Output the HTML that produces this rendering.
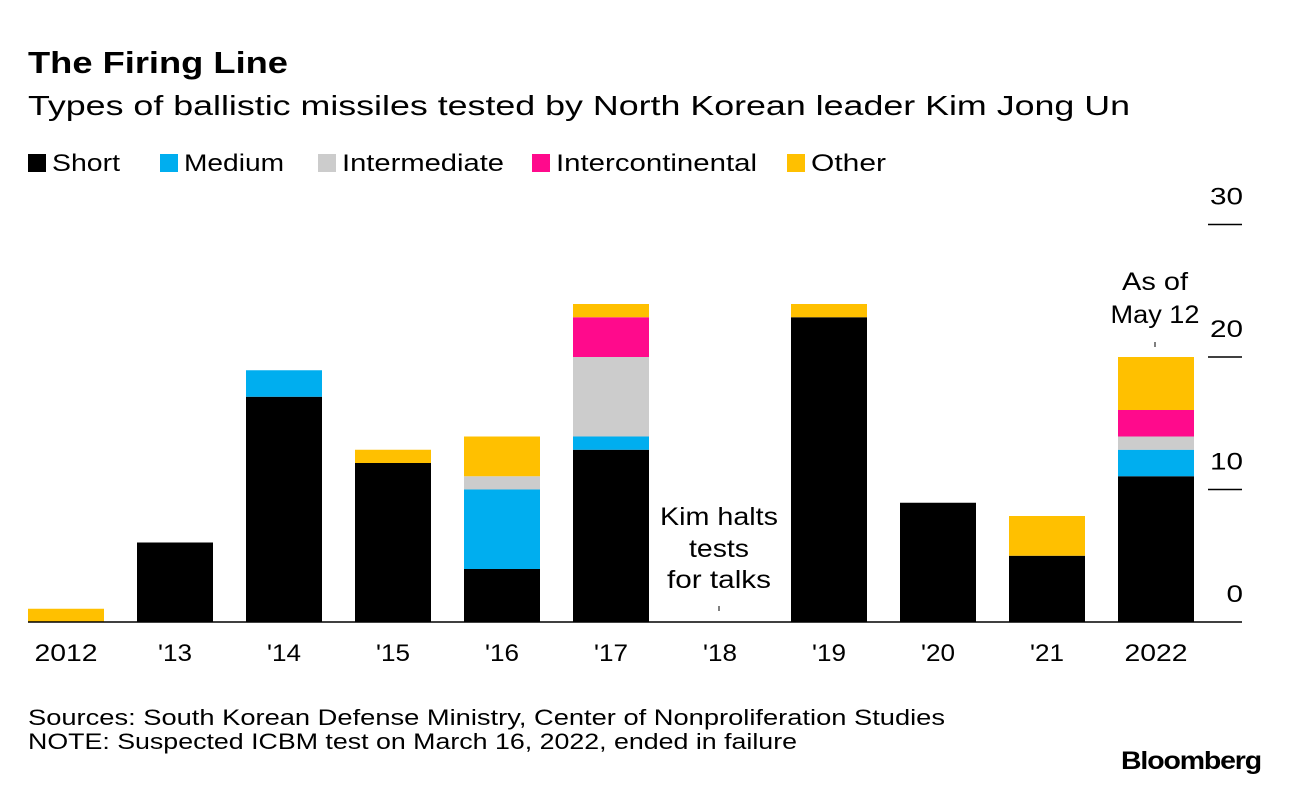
<!DOCTYPE html>
<html><head><meta charset="utf-8"><style>
body{margin:0;background:#fff;width:1289px;height:786px;overflow:hidden;font-family:"Liberation Sans",sans-serif;}
svg text{font-family:"Liberation Sans",sans-serif;}
</style></head><body>
<svg width="1289" height="786" id="c">
<text x="28" y="73" font-size="31" font-weight="bold" fill="#000" textLength="260" lengthAdjust="spacingAndGlyphs">The Firing Line</text>
<text x="28" y="115" font-size="28" fill="#000" textLength="1102" lengthAdjust="spacingAndGlyphs">Types of ballistic missiles tested by North Korean leader Kim Jong Un</text>
<g id="legend"></g>
<g id="grid"></g>
<g id="bars"></g>
<g id="xl"></g>
<g font-size="25" text-anchor="middle">
<text x="719" y="525" textLength="118" lengthAdjust="spacingAndGlyphs">Kim halts</text><text x="719" y="557" textLength="60" lengthAdjust="spacingAndGlyphs">tests</text><text x="719" y="588" textLength="104" lengthAdjust="spacingAndGlyphs">for talks</text>
<line x1="719" y1="606" x2="719" y2="611" stroke="#000"/></g>
<g font-size="25" text-anchor="middle">
<text x="1155" y="290" textLength="66" lengthAdjust="spacingAndGlyphs">As of</text><text x="1155" y="323" textLength="89" lengthAdjust="spacingAndGlyphs">May 12</text>
<line x1="1155" y1="342" x2="1155" y2="347" stroke="#000"/></g>
<text x="28" y="725" font-size="22" textLength="917" lengthAdjust="spacingAndGlyphs">Sources: South Korean Defense Ministry, Center of Nonproliferation Studies</text>
<text x="28" y="749" font-size="22" textLength="769" lengthAdjust="spacingAndGlyphs">NOTE: Suspected ICBM test on March 16, 2022, ended in failure</text>
<text x="1121" y="769" font-size="25" font-weight="bold" textLength="140" lengthAdjust="spacingAndGlyphs" letter-spacing="-1">Bloomberg</text>
</svg>
<script>
const categories=["2012","'13","'14","'15","'16","'17","'18","'19","'20","'21","2022"];
const seriesNames=["Short","Medium","Intermediate","Intercontinental","Other"];
const seriesColors=["#000000","#00aeef","#cccccc","#ff0a8c","#ffc000"];
const shortVals=[0,6,17,12,4,13,0,23,9,5,11];
const mediumVals=[0,0,2,0,6,1,0,0,0,0,2];
const intermediateVals=[0,0,0,0,1,6,0,0,0,0,1];
const icbmVals=[0,0,0,0,0,3,0,0,0,0,2];
const otherVals=[1,0,0,1,3,1,0,1,0,3,4];
const yTicks=[0,10,20,30];
const NS="http://www.w3.org/2000/svg";
const y0=622,pxPer=13.25,x0=28,step=109,bw=76;
const y=v=>y0-v*pxPer, x=i=>x0+i*step;
function mk(t,a,p){const e=document.createElementNS(NS,t);for(const k in a)e.setAttribute(k,a[k]);p.appendChild(e);return e;}
const leg=document.getElementById('legend');
const legX=[28,160,318,532,787];
const legW=[68,100,162,201,75];
seriesNames.forEach((n,i)=>{
 const g=mk('g',{},leg);
 
 
 mk('rect',{x:legX[i],y:154,width:18,height:18,fill:seriesColors[i]},g);
 const t=mk('text',{x:legX[i]+24,y:171,'font-size':24,textLength:legW[i],lengthAdjust:'spacingAndGlyphs'},g);t.textContent=n;
});
const grid=document.getElementById('grid');
yTicks.forEach(v=>{
 if(v>0){const l=mk('line',{x1:1208,x2:1242,y1:y(v),y2:y(v),stroke:'#000','stroke-width':1.5},grid);
 }
 const s=String(v);
 const t=mk('text',{x:1243,y:y(v)-20,'font-size':24,'text-anchor':'end',textLength:s.length*16.5,lengthAdjust:'spacingAndGlyphs'},grid);t.textContent=s;
 
});
const bars=document.getElementById('bars');
const series=[shortVals,mediumVals,intermediateVals,icbmVals,otherVals];
categories.forEach((c,i)=>{
 let acc=0;
 series.forEach((s,k)=>{
  const v=s[i]; if(v<=0)return;
  const r=mk('rect',{x:x(i),y:y(acc+v),width:bw,height:v*pxPer,fill:seriesColors[k]},bars);
  
  
  acc+=v;
 });
});
const xl=document.getElementById('xl');
const ax=mk('line',{x1:28,x2:1242,y1:y0,y2:y0,stroke:'#000','stroke-width':1.5},xl);

categories.forEach((c,i)=>{
 const t=mk('text',{x:x(i)+bw/2,y:661,'font-size':24,'text-anchor':'middle',textLength:c.length===4?63:34,lengthAdjust:'spacingAndGlyphs'},xl);t.textContent=c;
 
});
</script>
</body></html>
